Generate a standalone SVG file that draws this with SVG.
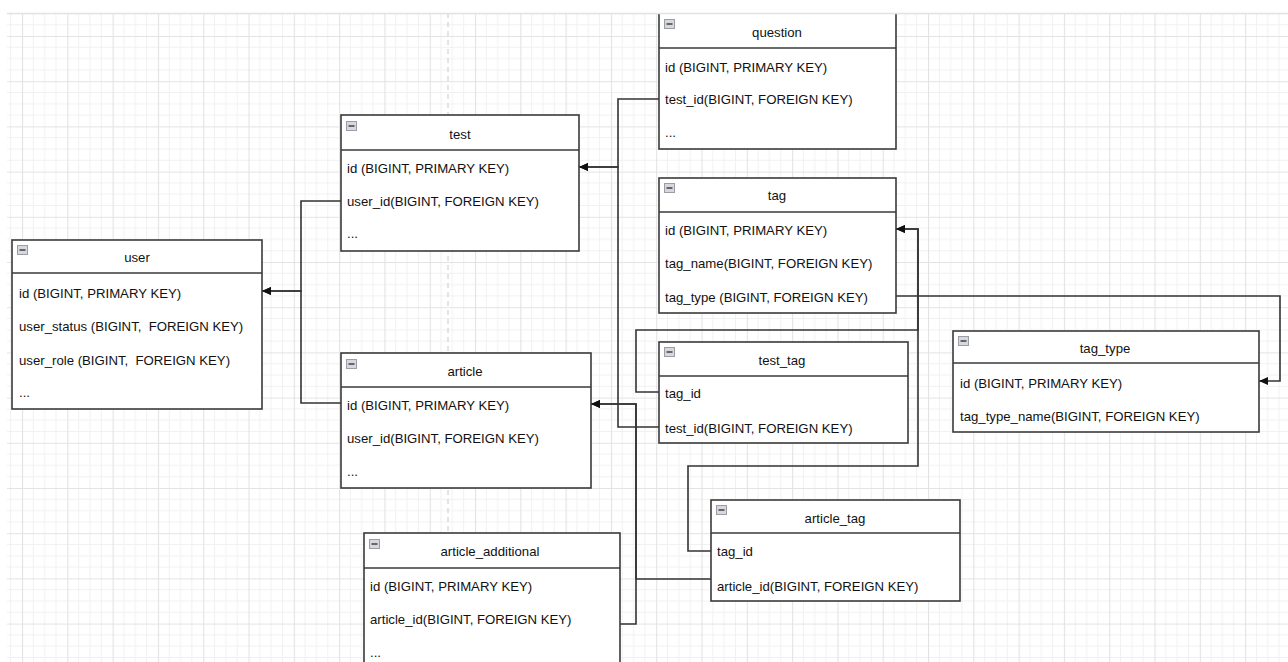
<svg xmlns="http://www.w3.org/2000/svg" width="1288" height="662" viewBox="0 0 1288 662">
  <defs>
    <pattern id="grid" patternUnits="userSpaceOnUse" x="22" y="36" width="45.3" height="45.2">
      <g stroke="#f1f1f1" stroke-width="1">
        <line x1="11.33" y1="0" x2="11.33" y2="45.2"/>
        <line x1="22.65" y1="0" x2="22.65" y2="45.2"/>
        <line x1="33.98" y1="0" x2="33.98" y2="45.2"/>
        <line x1="0" y1="11.3" x2="45.3" y2="11.3"/>
        <line x1="0" y1="22.6" x2="45.3" y2="22.6"/>
        <line x1="0" y1="33.9" x2="45.3" y2="33.9"/>
      </g>
      <g stroke="#e3e3e3" stroke-width="1.2">
        <line x1="0.5" y1="0" x2="0.5" y2="45.2"/>
        <line x1="0" y1="0.5" x2="45.3" y2="0.5"/>
      </g>
    </pattern>
    <marker id="arrow" markerUnits="userSpaceOnUse" markerWidth="11" markerHeight="10" refX="10" refY="5" orient="auto">
      <path d="M1,1 L10,5 L1,9 Z" fill="#111"/>
    </marker>
    <g id="icon">
      <rect x="0.5" y="0.5" width="10" height="9" fill="#d6d8de" stroke="#9a9ca6" stroke-width="1"/>
      <rect x="2.5" y="4" width="6" height="2" fill="#666"/>
    </g>
  </defs>
  <style>
    .box { fill: #ffffff; stroke: #3a3a3a; stroke-width: 1.6; }
    .sep { stroke: #3a3a3a; stroke-width: 1.6; }
    .t { font-family: "Liberation Sans", Arial, sans-serif; font-size: 13.2px; fill: #111; white-space: pre; }
    .title { text-anchor: middle; }
    .wire { fill: none; stroke: #333; stroke-width: 1.6; }
    .pb { stroke: #c8c8c8; stroke-width: 1; stroke-dasharray: 5 4; }
  </style>

  <!-- canvas background with grid -->
  <rect x="0" y="0" width="1288" height="662" fill="#ffffff"/>
  <rect x="7" y="13" width="1281" height="649" fill="url(#grid)"/>
  <line class="pb" x1="448" y1="13" x2="448" y2="662"/>

  <!-- relations -->
  <g id="connectors">
    <path class="wire" d="M341,201 H301 V291 H262" marker-end="url(#arrow)"/>
    <path class="wire" d="M341,403 H301 V291 H262" marker-end="url(#arrow)"/>
    <path class="wire" d="M659,99 H618 V167 H579" marker-end="url(#arrow)"/>
    <path class="wire" d="M659,427 H618 V167 H579" marker-end="url(#arrow)"/>
    <path class="wire" d="M659,392 H636 V330 H918 V229 H896" marker-end="url(#arrow)"/>
    <path class="wire" d="M711,551 H688 V466 H918 V229 H896" marker-end="url(#arrow)"/>
    <path class="wire" d="M896,296 H1280 V381 H1259" marker-end="url(#arrow)"/>
    <path class="wire" d="M620,624 H636 V404 H591" marker-end="url(#arrow)"/>
    <path class="wire" d="M711,579 H636 V404 H591" marker-end="url(#arrow)"/>
  </g>

  <!-- tables -->
  <g id="user">
    <rect class="box" x="12" y="240" width="250" height="169"/>
    <line class="sep" x1="12" y1="273" x2="262" y2="273"/>
    <use href="#icon" x="17" y="245"/>
    <text class="t title" x="137" y="262">user</text>
    <text class="t" x="19" y="297.5">id (BIGINT, PRIMARY KEY)</text>
    <text class="t" x="19" y="330.5">user_status (BIGINT,  FOREIGN KEY)</text>
    <text class="t" x="19" y="364.5">user_role (BIGINT,  FOREIGN KEY)</text>
    <text class="t" x="19" y="397">...</text>
  </g>

  <g id="test">
    <rect class="box" x="341" y="115" width="238" height="136"/>
    <line class="sep" x1="341" y1="150" x2="579" y2="150"/>
    <use href="#icon" x="346" y="121"/>
    <text class="t title" x="460" y="138.5">test</text>
    <text class="t" x="347" y="172.5">id (BIGINT, PRIMARY KEY)</text>
    <text class="t" x="347" y="205.5">user_id(BIGINT, FOREIGN KEY)</text>
    <text class="t" x="347" y="238">...</text>
  </g>

  <g id="article">
    <rect class="box" x="341" y="353" width="250" height="135"/>
    <line class="sep" x1="341" y1="387" x2="591" y2="387"/>
    <use href="#icon" x="346" y="359"/>
    <text class="t title" x="465" y="375.5">article</text>
    <text class="t" x="347" y="409.5">id (BIGINT, PRIMARY KEY)</text>
    <text class="t" x="347" y="442.5">user_id(BIGINT, FOREIGN KEY)</text>
    <text class="t" x="347" y="476">...</text>
  </g>

  <g id="question">
    <rect class="box" x="659" y="10" width="237" height="139"/>
    <line class="sep" x1="659" y1="48" x2="896" y2="48"/>
    <use href="#icon" x="664" y="19"/>
    <text class="t title" x="777" y="36.5">question</text>
    <text class="t" x="665" y="71.5">id (BIGINT, PRIMARY KEY)</text>
    <text class="t" x="665" y="103.5">test_id(BIGINT, FOREIGN KEY)</text>
    <text class="t" x="665" y="137">...</text>
  </g>

  <g id="tag">
    <rect class="box" x="659" y="178" width="237" height="135"/>
    <line class="sep" x1="659" y1="212" x2="896" y2="212"/>
    <use href="#icon" x="664" y="183"/>
    <text class="t title" x="777" y="199.5">tag</text>
    <text class="t" x="665" y="234.5">id (BIGINT, PRIMARY KEY)</text>
    <text class="t" x="665" y="267.5">tag_name(BIGINT, FOREIGN KEY)</text>
    <text class="t" x="665" y="301.5">tag_type (BIGINT, FOREIGN KEY)</text>
  </g>

  <g id="test_tag">
    <rect class="box" x="659" y="342" width="249" height="101"/>
    <line class="sep" x1="659" y1="376" x2="908" y2="376"/>
    <use href="#icon" x="664" y="347"/>
    <text class="t title" x="782" y="364.5">test_tag</text>
    <text class="t" x="665" y="397.5">tag_id</text>
    <text class="t" x="665" y="432.5">test_id(BIGINT, FOREIGN KEY)</text>
  </g>

  <g id="tag_type">
    <rect class="box" x="953" y="331" width="306" height="101"/>
    <line class="sep" x1="953" y1="363" x2="1259" y2="363"/>
    <use href="#icon" x="958" y="336"/>
    <text class="t title" x="1105" y="352.5">tag_type</text>
    <text class="t" x="960" y="387.5">id (BIGINT, PRIMARY KEY)</text>
    <text class="t" x="960" y="420.5">tag_type_name(BIGINT, FOREIGN KEY)</text>
  </g>

  <g id="article_additional">
    <rect class="box" x="364" y="533" width="256" height="140"/>
    <line class="sep" x1="364" y1="568" x2="620" y2="568"/>
    <use href="#icon" x="369" y="539"/>
    <text class="t title" x="490" y="555.5">article_additional</text>
    <text class="t" x="370" y="590.5">id (BIGINT, PRIMARY KEY)</text>
    <text class="t" x="370" y="623.5">article_id(BIGINT, FOREIGN KEY)</text>
    <text class="t" x="370" y="657">...</text>
  </g>

  <g id="article_tag">
    <rect class="box" x="711" y="500" width="249" height="101"/>
    <line class="sep" x1="711" y1="533" x2="960" y2="533"/>
    <use href="#icon" x="716" y="505"/>
    <text class="t title" x="835" y="522.5">article_tag</text>
    <text class="t" x="717" y="555.5">tag_id</text>
    <text class="t" x="717" y="590.5">article_id(BIGINT, FOREIGN KEY)</text>
  </g>

  <!-- canvas margins -->
  <rect x="0" y="0" width="1288" height="13" fill="#ffffff"/>
  <rect x="0" y="0" width="7" height="662" fill="#ffffff"/>
  <line x1="7" y1="13.5" x2="1288" y2="13.5" stroke="#e2e2e2" stroke-width="1.5"/>
</svg>
